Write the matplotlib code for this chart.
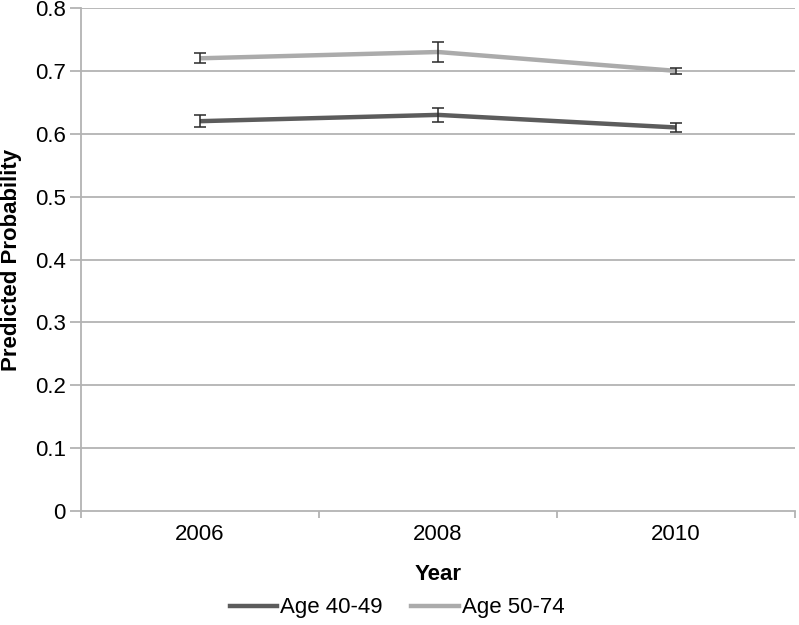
import numpy as np
import matplotlib.pyplot as plt
from matplotlib.lines import Line2D

plt.rcParams['font.family'] = ['Liberation Sans', 'DejaVu Sans']

years = ['2006', '2008', '2010']
age_40_49 = [0.62, 0.63, 0.61]
err_40_49 = [0.010, 0.011, 0.007]
age_50_74 = [0.72, 0.73, 0.70]
err_50_74 = [0.008, 0.016, 0.005]
y_ticks = [0, 0.1, 0.2, 0.3, 0.4, 0.5, 0.6, 0.7, 0.8]

dark = '#5c5c5c'
light = '#ababab'
grid = '#b3b3b3'
fs = 16

fig = plt.figure(figsize=(7.99, 6.25), dpi=100)
ax = fig.add_axes([81 / 799, 1 - 511 / 625, 714 / 799, 503 / 625])

x = np.arange(len(years))
ax.plot(x, age_40_49, color=dark, lw=3.2, solid_capstyle='butt', zorder=3)
ax.plot(x, age_50_74, color=light, lw=3.2, solid_capstyle='butt', zorder=3)
ax.errorbar(x, age_40_49, yerr=err_40_49, fmt='none', ecolor='#2a2a2a',
            elinewidth=1.1, capsize=4.2, capthick=1.1, zorder=4)
ax.errorbar(x, age_50_74, yerr=err_50_74, fmt='none', ecolor='#2a2a2a',
            elinewidth=1.1, capsize=4.2, capthick=1.1, zorder=4)

ax.set_xlim(-0.5, len(years) - 0.5)
ax.set_ylim(0, 0.8)
ax.set_yticks(y_ticks)
ax.set_yticklabels(['0'] + ['%.1f' % v for v in y_ticks[1:]])
for v in y_ticks[1:]:
    ax.axhline(v, color=grid, lw=1.3, zorder=1)

ax.set_xticks(x)
ax.set_xticklabels(years)
ax.set_xticks(np.arange(-0.5, len(years)), minor=True)
ax.tick_params(axis='x', which='major', length=0, pad=9, labelsize=fs)
ax.tick_params(axis='x', which='minor', length=5, color=grid, width=1.3)
ax.tick_params(axis='y', length=8, color=grid, width=1.3, pad=3, labelsize=fs)

for s in ['top', 'right']:
    ax.spines[s].set_visible(False)
for s in ['left', 'bottom']:
    ax.spines[s].set_color(grid)
    ax.spines[s].set_linewidth(1.3)

ax.set_xlabel('Year', fontsize=fs, fontweight='bold')
ax.xaxis.set_label_coords(0.5, -(575 - 511) / 503, transform=ax.transAxes)
ax.xaxis.label.set_va('center')
ax.set_ylabel('Predicted Probability', fontsize=fs, fontweight='bold')
ax.yaxis.set_label_coords(-(81 - 11) / 714, 0.5)
ax.yaxis.label.set_va('center')

handles = [Line2D([], [], color=dark, lw=3.2), Line2D([], [], color=light, lw=3.2)]
fig.legend(handles, ['Age 40-49', 'Age 50-74'], loc='center', ncol=2,
           bbox_to_anchor=(397 / 799, 1 - 608 / 625), frameon=False,
           fontsize=fs, handlelength=2.15, handletextpad=0.12,
           columnspacing=1.3, borderpad=0, borderaxespad=0)

fig.savefig('out.png', dpi=100)
